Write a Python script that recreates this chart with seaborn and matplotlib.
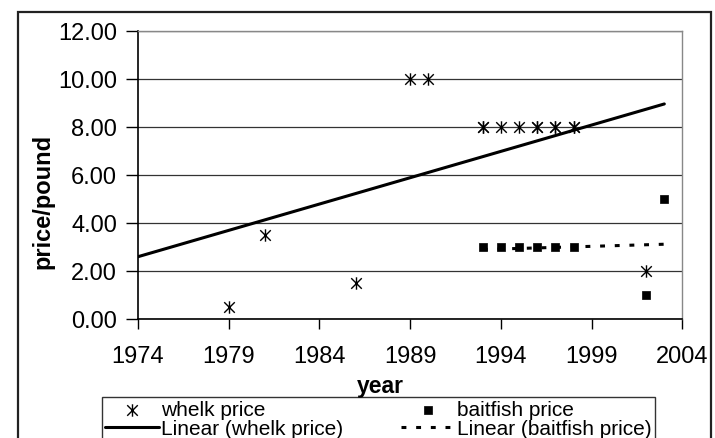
import numpy as np
import pandas as pd
import matplotlib
matplotlib.use("Agg")
import matplotlib.pyplot as plt
from matplotlib.path import Path
from matplotlib.patches import Rectangle
import seaborn as sns

# whelk price per pound by year (repeated years = overlapping points)
whelk_years = [1979, 1981, 1986, 1989, 1990, 1993, 1993, 1994, 1995,
               1996, 1996, 1997, 1997, 1998, 1998, 2002]
whelk_price = [0.5, 3.5, 1.5, 10.0, 10.0, 8.0, 8.0, 8.0, 8.0,
               8.0, 8.0, 8.0, 8.0, 8.0, 8.0, 2.0]

# baitfish price per pound by year
bait_years = [1993, 1994, 1995, 1996, 1997, 1998, 2002, 2003]
bait_price = [3.0, 3.0, 3.0, 3.0, 3.0, 3.0, 1.0, 5.0]

x_ticks = [1974, 1979, 1984, 1989, 1994, 1999, 2004]
y_ticks = [0, 2, 4, 6, 8, 10, 12]

# Excel-style trendline spans (forecast back 5 yrs, forward 1 yr for whelk)
whelk_trend_span = (1974, 2003)
bait_trend_span = (1993, 2003)

sns.set_theme(style="white")
plt.rcParams["font.family"] = ["Liberation Sans", "DejaVu Sans"]

whelk = pd.DataFrame({"year": whelk_years, "price": whelk_price})
bait = pd.DataFrame({"year": bait_years, "price": bait_price})


def linear_trend(df, span):
    slope, icpt = np.polyfit(df["year"], df["price"], 1)
    xs = np.array(span, dtype=float)
    return pd.DataFrame({"year": xs, "price": slope * xs + icpt})


asterisk = Path(
    [(-0.85, -0.85), (0.85, 0.85), (-0.85, 0.85), (0.85, -0.85), (0, -1), (0, 1)],
    [Path.MOVETO, Path.LINETO, Path.MOVETO, Path.LINETO, Path.MOVETO, Path.LINETO],
)

fig = plt.figure(figsize=(7.15, 4.38), dpi=100)
ax = fig.add_axes([0.193, 0.271, 0.7615, 0.658])

sns.lineplot(data=linear_trend(whelk, whelk_trend_span), x="year", y="price",
             color="black", linewidth=2.2, ax=ax, label="Linear (whelk price)",
             legend=False, zorder=3)
sns.lineplot(data=linear_trend(bait, bait_trend_span), x="year", y="price",
             color="black", linewidth=2.2, linestyle=(0, (1.6, 3.2)), ax=ax,
             label="Linear (baitfish price)", legend=False, zorder=3)
sns.scatterplot(data=whelk, x="year", y="price", marker=asterisk, s=80,
                color="black", edgecolor="black", linewidth=1.0, ax=ax,
                label="whelk price", legend=False, zorder=4)
sns.scatterplot(data=bait, x="year", y="price", marker="s", s=26,
                color="black", edgecolor="black", linewidth=0.5, ax=ax,
                label="baitfish price", legend=False, zorder=4)

ax.set_xlim(1974, 2004)
ax.set_ylim(0, 12)
ax.set_xticks(x_ticks)
ax.set_yticks(y_ticks)
ax.set_yticklabels([f"{v:.2f}" for v in y_ticks])
ax.tick_params(axis="both", labelsize=17, colors="black", direction="out",
               bottom=True, left=True)
ax.tick_params(axis="x", length=7, width=1, pad=12)
ax.tick_params(axis="y", length=9, width=1, pad=6)

ax.yaxis.grid(True, color="#333333", linewidth=0.9)
ax.xaxis.grid(False)
for side in ("left", "bottom"):
    ax.spines[side].set_color("black")
    ax.spines[side].set_linewidth(1.2)
for side in ("top", "right"):
    ax.spines[side].set_color("#888888")
    ax.spines[side].set_linewidth(1.0)

ax.set_xlabel("year", fontsize=16.5, fontweight="bold", color="black")
ax.set_ylabel("price/pound", fontsize=17, fontweight="bold", color="black")
ax.xaxis.set_label_coords(0.446, -0.193)
ax.yaxis.set_label_coords(-0.154, 0.408)

handles, labels = ax.get_legend_handles_labels()
lookup = dict(zip(labels, handles))
order = ["whelk price", "Linear (whelk price)",
         "baitfish price", "Linear (baitfish price)"]
leg = ax.legend([lookup[k] for k in order], order, ncol=2, fontsize=15,
                loc="upper left", mode="expand",
                bbox_to_anchor=(0.1427, -0.2, 0.773, 0.2925),
                bbox_transform=fig.transFigure, frameon=True, fancybox=False,
                edgecolor="black", handlelength=2.6, handletextpad=0.08,
                labelspacing=0.0, borderpad=0.15, borderaxespad=0.0,
                columnspacing=1.0)
leg.get_frame().set_linewidth(1.0)
for t in leg.get_texts():
    t.set_color("black")

# outer chart-area border
fig.patches.append(Rectangle((18 / 715, -0.1), (711 - 18) / 715, 1.1 - 12 / 438,
                             transform=fig.transFigure, fill=False,
                             edgecolor="#222222", linewidth=1.6))

fig.savefig("out.png", dpi=100, facecolor="white")
